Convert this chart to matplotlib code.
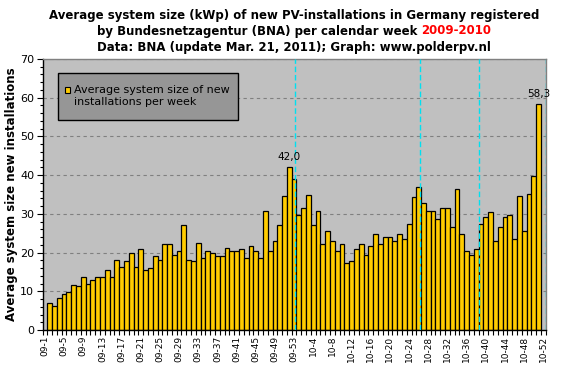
import numpy as np
import matplotlib
matplotlib.use("Agg")
import matplotlib.pyplot as plt
from matplotlib.patches import Rectangle

# --- данные: средний размер установки (kWp) по неделям ---
weeks = [f"09-{w}" for w in range(1, 54)] + [f"10-{w}" for w in range(1, 53)]

avg_size_2009 = [
    np.nan, 7.1, 6.1, 8.2, 9.2, 9.7, 11.5, 11.3, 13.8, 12.0,
    12.8, 13.8, 13.8, 15.4, 13.6, 18.2, 16.2, 17.7, 20.0, 16.2,
    21.0, 15.4, 15.9, 19.0, 18.2, 22.3, 22.1, 19.5, 20.3, 27.2,
    18.0, 17.7, 22.6, 18.5, 20.5, 19.8, 19.0, 19.2, 21.3, 20.3,
    20.3, 21.0, 18.5, 21.6, 20.5, 18.7, 30.8, 20.5, 22.9, 27.0,
    34.7, 42.0, 39.1,
]
avg_size_2010 = [
    29.6, 31.6, 35.0, 27.0, 30.8, 22.3, 25.7, 22.9, 20.3, 22.3,
    17.2, 17.7, 20.8, 22.1, 19.5, 21.8, 24.7, 22.1, 23.9, 24.1,
    23.1, 24.9, 23.6, 27.5, 34.4, 37.0, 32.9, 30.8, 30.8, 28.8,
    31.6, 31.6, 26.7, 36.3, 24.7, 20.5, 19.5, 21.0, 27.5, 29.3,
    30.6, 22.9, 26.7, 29.3, 29.6, 23.6, 34.7, 25.7, 35.2, 39.9,
    58.3, np.nan,
]
values = avg_size_2009 + avg_size_2010

# пунктирные голубые линии (положение в неделях, дробное)
marker_lines = [52.1, 78.35, 90.6, 104.5]

title_lines = [
    "Average system size (kWp) of new PV-installations in Germany registered",
    "by Bundesnetzagentur (BNA) per calendar week ",
    "Data: BNA (update Mar. 21, 2011); Graph: www.polderpv.nl",
]
title_red = "2009-2010"
legend_text = "Average system size of new\ninstallations per week"
y_label = "Average system size new installations"

W, H = 561, 371
fig = plt.figure(figsize=(W / 100, H / 100), dpi=100)
fig.patch.set_facecolor("white")

left, right, top, bottom = 42.5, 545.7, 59, 330
ax = fig.add_axes([left / W, 1 - bottom / H, (right - left) / W, (bottom - top) / H])
ax.set_facecolor("#C0C0C0")

x = np.arange(len(weeks))
ax.bar(x, values, width=1.0, color="#FFCC00", edgecolor="black", linewidth=0.9, zorder=2)

for xl in marker_lines:
    ax.axvline(xl, color="#00E0F0", linestyle=(0, (4, 2)), linewidth=1.0, zorder=3)

ax.set_xlim(-0.5, len(weeks) - 0.5)
ax.set_ylim(0, 70)

# оси и сетка
ax.set_yticks(range(0, 71, 10))
ax.set_yticks(range(0, 71, 2), minor=True)
ax.yaxis.grid(True, which="major", linestyle=(0, (3, 3)), color="#808080", linewidth=0.8)
ax.set_axisbelow(True)
ax.tick_params(axis="y", which="major", length=4, width=0.8, labelsize=8, pad=2)
ax.tick_params(axis="y", which="minor", length=2, width=0.8)

ax.set_xticks(x[::4])
ax.set_xticklabels(weeks[::4], rotation=90, fontsize=6.5)
ax.set_xticks(np.arange(-0.5, len(weeks), 1), minor=True)
ax.tick_params(axis="x", which="major", length=0, pad=4)
ax.tick_params(axis="x", which="minor", length=3.5, width=0.8)

for s in ["left", "bottom"]:
    ax.spines[s].set_color("black")
    ax.spines[s].set_linewidth(1.0)
for s in ["top", "right"]:
    ax.spines[s].set_color("#808080")
    ax.spines[s].set_linewidth(1.0)

ax.set_ylabel(y_label, fontsize=8.5, fontweight="bold")
ax.yaxis.set_label_coords(-(left - 18) / (right - left), 0.5)

# подписи максимумов каждого года
n09 = len(avg_size_2009)
for lo, hi in [(0, n09), (n09, len(values))]:
    seg = np.array(values[lo:hi])
    i = lo + int(np.nanargmax(seg))
    ax.annotate(f"{values[i]:.1f}".replace(".", ","), (x[i], values[i]),
                xytext=(0, 4), textcoords="offset points",
                ha="center", va="bottom", fontsize=7.5, zorder=4)

# легенда (вручную, как в Excel)
lx0, ly0, lx1, ly1 = 58.3, 73.3, 237.7, 120.3
fig.add_artist(Rectangle((lx0 / W, 1 - ly1 / H), (lx1 - lx0) / W, (ly1 - ly0) / H,
                         transform=fig.transFigure, facecolor="#969696",
                         edgecolor="black", linewidth=1.0, zorder=5))
fig.add_artist(Rectangle((64.5 / W, 1 - 92.8 / H), 5.5 / W, 5.5 / H,
                         transform=fig.transFigure, facecolor="#FFCC00",
                         edgecolor="black", linewidth=0.8, zorder=6))
fig.text(74.5 / W, 1 - 96 / H, legend_text, fontsize=8, ha="left", va="center",
         linespacing=1.2, zorder=6)

# заголовок: три строки, часть второй красным
fs_t = 8.5
cx = (left + right) / 2 / W
fig.text(cx, 1 - 15 / H, title_lines[0], ha="center", va="center", fontsize=fs_t, fontweight="bold")
fig.text(cx, 1 - 47 / H, title_lines[2], ha="center", va="center", fontsize=fs_t, fontweight="bold")
t_black = fig.text(0, 1 - 31 / H, title_lines[1], ha="left", va="center", fontsize=fs_t, fontweight="bold")
t_red = fig.text(0, 1 - 31 / H, title_red, ha="left", va="center", fontsize=fs_t,
                 fontweight="bold", color="red")
fig.canvas.draw()
r = fig.canvas.get_renderer()
w_black = t_black.get_window_extent(r).width
w_red = t_red.get_window_extent(r).width
start = (left + right) / 2 - (w_black + w_red) / 2
t_black.set_x(start / W)
t_red.set_x((start + w_black) / W)

fig.savefig("out.png", dpi=100)
